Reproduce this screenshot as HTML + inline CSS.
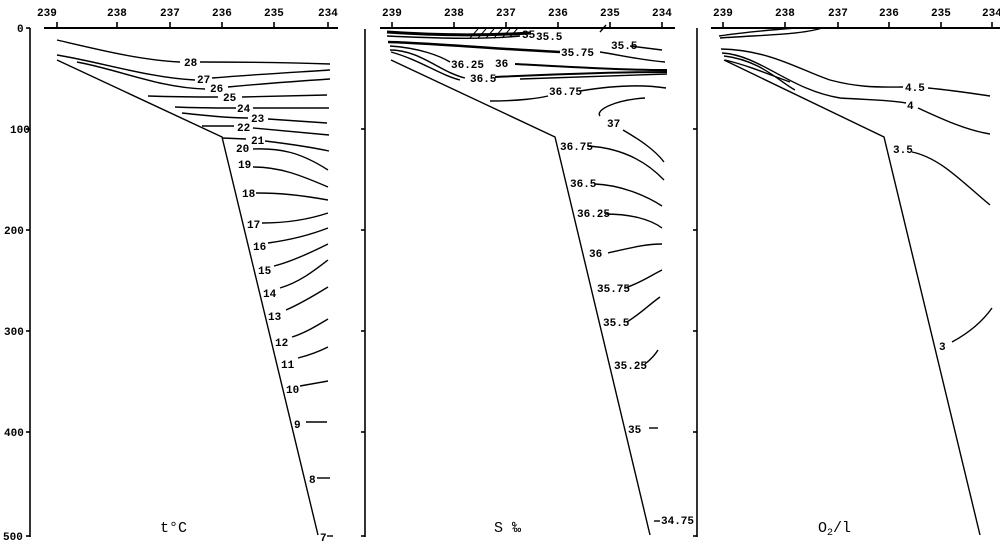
<!DOCTYPE html>
<html><head><meta charset="utf-8"><style>
html,body{margin:0;padding:0;background:#fff;}
svg{display:block}
text{font-family:"Liberation Mono","DejaVu Sans Mono",monospace;font-size:11px;font-weight:bold;fill:#000}
.t{font-size:10px}
</style></head><body>
<svg width="1000" height="546" viewBox="0 0 1000 546" xmlns="http://www.w3.org/2000/svg">
<g stroke="#000" fill="none" stroke-width="1.6">
<line x1="30" y1="28" x2="30" y2="537"/>
<line x1="26" y1="28" x2="30" y2="28"/><line x1="26" y1="129" x2="30" y2="129"/><line x1="26" y1="230" x2="30" y2="230"/><line x1="26" y1="331" x2="30" y2="331"/><line x1="26" y1="432" x2="30" y2="432"/><line x1="26" y1="536" x2="30" y2="536"/>
<line x1="44" y1="28" x2="338" y2="28" stroke-width="2"/>
<line x1="57" y1="22" x2="57" y2="28"/><line x1="117" y1="22" x2="117" y2="28"/><line x1="170" y1="22" x2="170" y2="28"/><line x1="222" y1="22" x2="222" y2="28"/><line x1="274" y1="22" x2="274" y2="28"/><line x1="328" y1="22" x2="328" y2="28"/>
<line x1="365" y1="29" x2="365" y2="537"/>
<line x1="365" y1="129" x2="361" y2="129"/><line x1="365" y1="230" x2="361" y2="230"/><line x1="365" y1="331" x2="361" y2="331"/><line x1="365" y1="432" x2="361" y2="432"/><line x1="365" y1="536" x2="361" y2="536"/>
<line x1="380" y1="28" x2="675" y2="28" stroke-width="2"/>
<line x1="392" y1="22" x2="392" y2="28"/><line x1="454" y1="22" x2="454" y2="28"/><line x1="506" y1="22" x2="506" y2="28"/><line x1="558" y1="22" x2="558" y2="28"/><line x1="610" y1="22" x2="610" y2="28"/><line x1="662" y1="22" x2="662" y2="28"/>
<line x1="697" y1="28" x2="697" y2="537"/>
<line x1="697" y1="129" x2="693" y2="129"/><line x1="697" y1="230" x2="693" y2="230"/><line x1="697" y1="331" x2="693" y2="331"/><line x1="697" y1="432" x2="693" y2="432"/><line x1="697" y1="536" x2="693" y2="536"/>
<line x1="711" y1="28" x2="1000" y2="28" stroke-width="2"/>
<line x1="723" y1="22" x2="723" y2="28"/><line x1="785" y1="22" x2="785" y2="28"/><line x1="838" y1="22" x2="838" y2="28"/><line x1="889" y1="22" x2="889" y2="28"/><line x1="941" y1="22" x2="941" y2="28"/><line x1="992" y1="22" x2="992" y2="28"/>
</g>
<g stroke="#000" fill="none" stroke-width="1.4">
<polyline points="57,60 222,137 318,535"/>
<polyline points="391,60 555,137 650,535"/>
<polyline points="724,60 884,137 980,535"/>
<path d="M57,40 C100,50 140,60 180,62"/><path d="M200,62 C250,62 300,63 330,64"/>
<path d="M57,55 C100,62 150,78 195,80"/><path d="M212,78 C260,74 300,72 330,70"/>
<path d="M77,62 C120,70 160,88 205,89"/><path d="M228,87 C270,83 300,81 330,79"/>
<path d="M148,96 C180,97 200,97 218,97"/><path d="M242,97 L327,95"/>
<path d="M175,107 C200,108 220,108 236,108"/><path d="M253,108 L329,108"/>
<path d="M182,113 C210,116 230,118 248,118"/><path d="M268,119 L327,123"/>
<path d="M202,126 L234,126"/><path d="M253,128 L329,135"/>
<path d="M222,138 L246,139"/><path d="M265,141 C290,144 310,147 329,151"/>
<path d="M253,149 C280,148 300,152 328,170"/>
<path d="M253,167 C280,167 300,175 328,187"/>
<path d="M256,193 C280,193 300,195 328,200"/>
<path d="M262,223 C290,223 310,219 328,213"/>
<path d="M268,243 C290,240 310,235 328,228"/>
<path d="M274,266 C290,262 310,253 328,244"/>
<path d="M280,288 C300,282 315,270 328,260"/>
<path d="M286,310 C300,304 315,295 328,287"/>
<path d="M292,337 C305,333 318,325 328,319"/>
<path d="M298,358 C310,355 320,351 328,347"/>
<path d="M300,386 L328,381"/>
<path d="M306,422 L327,422"/>
<path d="M317,478 L330,478"/>
<path d="M327,536 L333,536"/>
<path d="M387,32 C430,35 480,36 530,33" stroke-width="3"/>
<path d="M387,36 C430,38 480,40 520,36"/>
<path d="M470,38 l8,-9 M478,38 l8,-9 M486,38 l8,-9 M494,38 l8,-9 M502,38 l8,-9 M510,37 l8,-9" stroke-width="1"/>
<path d="M388,42 C430,43 480,48 560,52" stroke-width="2.5"/>
<path d="M600,52 C620,55 640,60 665,62"/>
<path d="M600,32 l6,-7"/><path d="M630,46 L662,50"/>
<path d="M390,46 C420,48 440,56 450,62"/><path d="M515,64 C570,67 620,70 667,70" stroke-width="2"/>
<path d="M390,50 C420,50 440,72 465,78"/><path d="M495,77 C560,74 620,72 667,72" stroke-width="2"/>
<path d="M391,52 C420,60 440,75 460,80"/><path d="M520,79 C570,77 620,76 667,74"/>
<path d="M490,101 C520,101 540,98 548,96"/><path d="M580,91 C610,86 640,84 666,88"/>
<path d="M645,98 C615,100 595,110 600,116"/><path d="M623,130 C640,140 655,150 664,162"/>
<path d="M588,146 C620,148 645,160 664,180"/>
<path d="M595,184 C620,185 645,195 662,206"/>
<path d="M605,214 C630,214 650,219 662,228"/>
<path d="M608,253 C630,248 645,244 662,244"/>
<path d="M625,288 C640,283 650,276 662,270"/>
<path d="M627,322 C640,314 650,304 660,297"/>
<path d="M645,364 C650,360 655,355 658,350"/>
<path d="M649,428 L658,428"/>
<path d="M654,521 L660,521"/>
<path d="M719,36 C745,32 770,30 795,28"/><path d="M720,38 C760,35 800,35 822,28"/>
<path d="M721,49 C770,50 800,70 830,80 C860,88 880,87 903,87"/><path d="M928,88 C950,90 970,93 990,96"/>
<path d="M722,53 C760,55 790,90 840,98 C870,100 890,100 906,103"/><path d="M918,108 C940,118 965,130 990,134"/>
<path d="M724,56 C760,60 780,82 795,90"/><path d="M725,60 C750,66 770,75 790,82"/>
<path d="M912,152 C940,158 960,180 990,205"/>
<path d="M952,342 C965,335 980,325 992,308"/>
</g>
<g class="t">
<text x="37" y="16">239</text><text x="107" y="16">238</text><text x="160" y="16">237</text><text x="212" y="16">236</text><text x="264" y="16">235</text><text x="318" y="16">234</text>
<text x="382" y="16">239</text><text x="444" y="16">238</text><text x="496" y="16">237</text><text x="548" y="16">236</text><text x="600" y="16">235</text><text x="652" y="16">234</text>
<text x="713" y="16">239</text><text x="775" y="16">238</text><text x="828" y="16">237</text><text x="879" y="16">236</text><text x="931" y="16">235</text><text x="982" y="16">234</text>
<text x="17" y="32">0</text><text x="10" y="133">100</text><text x="4" y="234">200</text><text x="4" y="335">300</text><text x="4" y="436">400</text><text x="3" y="540">500</text>
</g>
<g class="t">
<text x="184" y="66">28</text><text x="197" y="83">27</text><text x="210" y="92">26</text><text x="223" y="101">25</text><text x="237" y="112">24</text><text x="251" y="122">23</text><text x="237" y="131">22</text><text x="251" y="144">21</text><text x="236" y="152">20</text><text x="238" y="168">19</text><text x="242" y="197">18</text><text x="247" y="228">17</text><text x="253" y="250">16</text><text x="258" y="274">15</text><text x="263" y="297">14</text><text x="268" y="320">13</text><text x="275" y="346">12</text><text x="281" y="368">11</text><text x="286" y="393">10</text><text x="294" y="428">9</text><text x="309" y="483">8</text><text x="320" y="541">7</text>
<text x="522" y="38">35</text><text x="536" y="40">35.5</text><text x="611" y="49">35.5</text><text x="561" y="56">35.75</text><text x="451" y="68">36.25</text><text x="495" y="67">36</text><text x="470" y="82">36.5</text><text x="549" y="95">36.75</text><text x="607" y="127">37</text><text x="560" y="150">36.75</text><text x="570" y="187">36.5</text><text x="577" y="217">36.25</text><text x="589" y="257">36</text><text x="597" y="292">35.75</text><text x="603" y="326">35.5</text><text x="614" y="369">35.25</text><text x="628" y="433">35</text><text x="661" y="524">34.75</text>
<text x="905" y="91">4.5</text><text x="907" y="109">4</text><text x="893" y="153">3.5</text><text x="939" y="350">3</text>
</g>
<text x="160" y="532" style="font-size:15px;font-weight:normal">t°C</text>
<text x="494" y="532" style="font-size:15px;font-weight:normal">S ‰</text>
<text x="818" y="532" style="font-size:15px;font-weight:normal">O<tspan dy="3" style="font-size:10px">2</tspan><tspan dy="-3">/l</tspan></text>
</svg>
</body></html>
